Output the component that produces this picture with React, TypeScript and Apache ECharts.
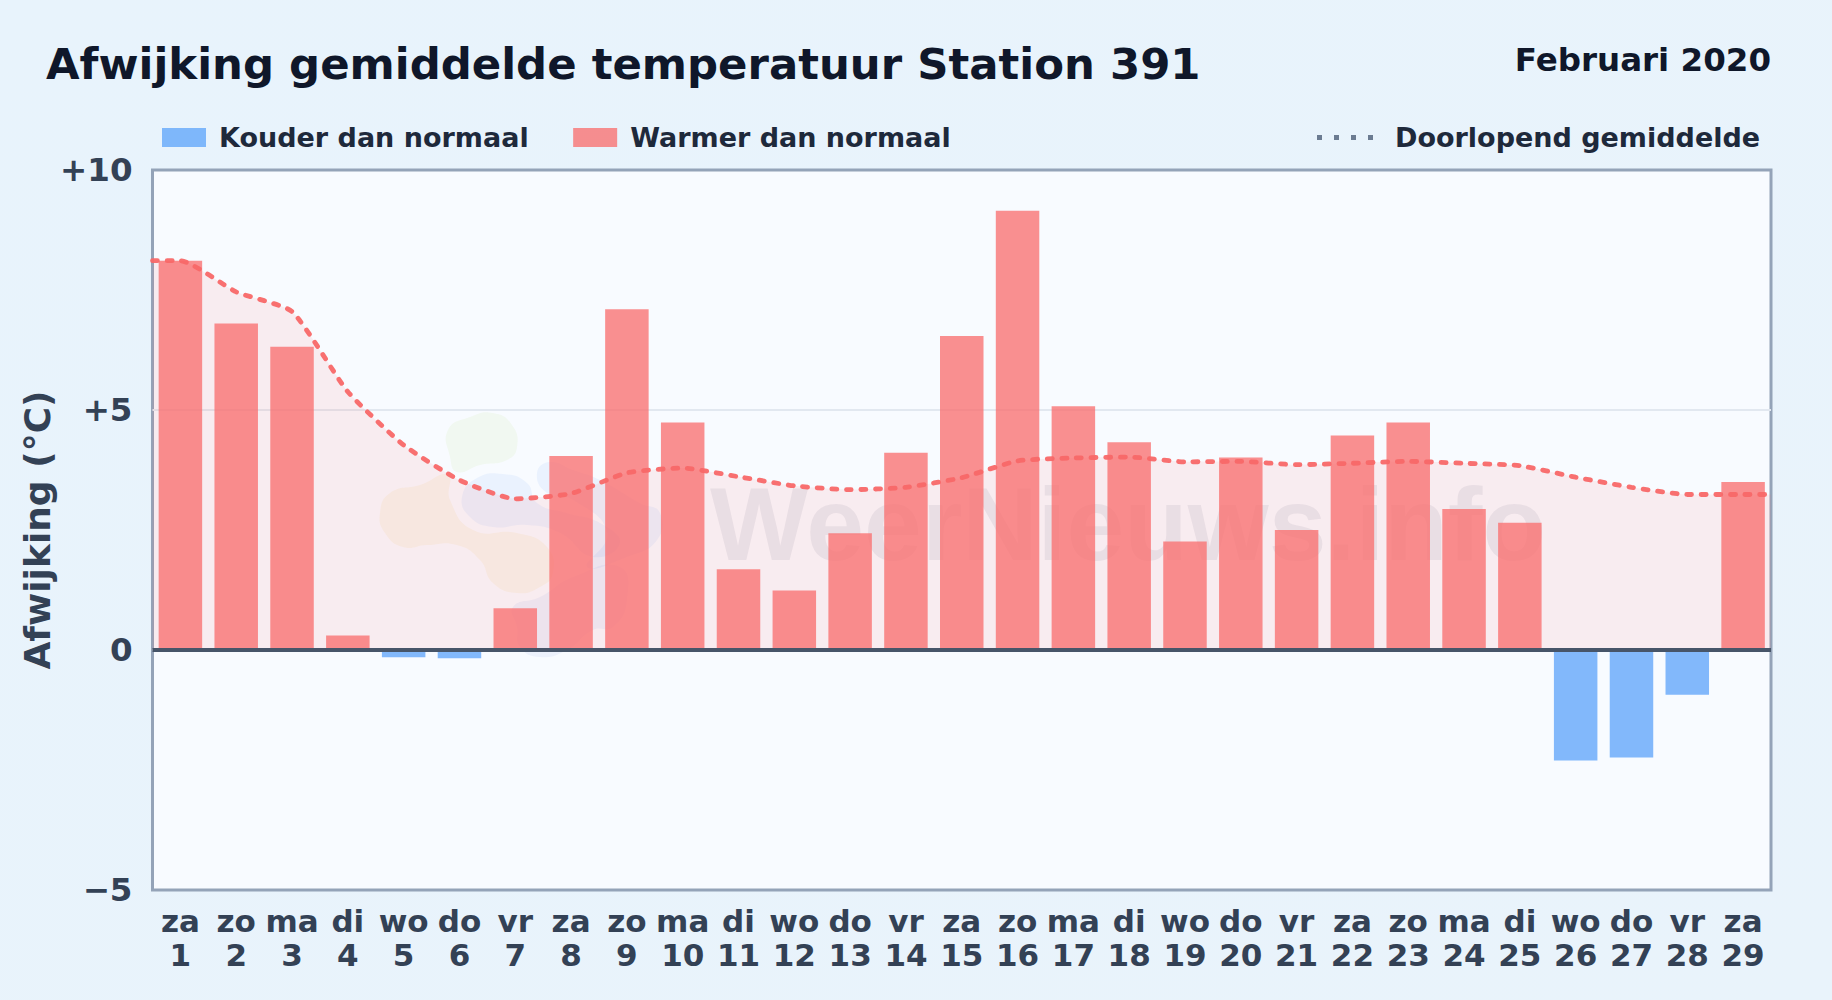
import React, { useEffect, useRef } from "react";
import * as echarts from "echarts";

const weekdays = ["za","zo","ma","di","wo","do","vr","za","zo","ma","di","wo","do","vr","za","zo","ma","di","wo","do","vr","za","zo","ma","di","wo","do","vr","za"];
const days = weekdays.map((_, i) => String(i + 1));
const deviations = [8.11,6.8,6.32,0.3,-0.15,-0.17,0.87,4.04,7.1,4.74,1.68,1.24,2.43,4.11,6.54,9.15,5.08,4.33,2.26,4.01,2.5,4.47,4.74,2.94,2.65,-2.3,-2.24,-0.93,3.5];
const runningMean = [8.11,7.46,7.05,5.38,4.27,3.54,3.15,3.26,3.69,3.79,3.61,3.42,3.34,3.39,3.59,3.94,4.0,4.02,3.92,3.93,3.86,3.89,3.93,3.89,3.84,3.6,3.39,3.24,3.24];
const yTicks = { min: -5, max: 10, step: 5 };
const coldName = "Kouder dan normaal";
const warmName = "Warmer dan normaal";
const meanName = "Doorlopend gemiddelde";
const titleText = "Afwijking gemiddelde temperatuur Station 391";
const periodText = "Februari 2020";
const watermarkText = "WeerNieuws.info";
const yAxisName = "Afwijking (°C)";

const FONT = "DejaVu Sans";
const blobs: [string, number[][]][] = [
  ["rgba(132,204,22,0.06)", [[448,430],[470,417],[493,413],[512,425],[517,447],[507,460],[480,465],[457,472],[450,457]]],
  ["rgba(234,179,8,0.07)", [[380,513],[390,493],[420,485],[448,475],[450,500],[473,530],[517,533],[547,547],[553,573],[540,587],[517,593],[493,583],[480,560],[457,545],[427,545],[403,547],[385,533]]],
  ["rgba(59,130,246,0.07)", [[462,497],[477,478],[503,474],[527,483],[537,503],[567,513],[600,523],[620,543],[593,557],[560,533],[527,525],[493,527],[470,517]]],
  ["rgba(59,130,246,0.07)", [[537,473],[550,462],[573,470],[600,480],[640,503],[660,513],[657,540],[627,557],[587,567],[607,533],[573,500],[547,493]]],
  ["rgba(59,80,200,0.06)", [[513,607],[540,597],[573,577],[620,567],[627,600],[613,627],[593,630],[567,650],[540,657],[520,647],[517,627]]],
];

function fmtTick(v: number) {
  if (v > 0) return "+" + v;
  if (v < 0) return "\u2212" + Math.abs(v);
  return "0";
}

export default function App() {
  const ref = useRef<HTMLDivElement>(null);
  useEffect(() => {
    document.body.style.margin = "0";
    const chart = echarts.init(ref.current!, undefined, { renderer: "svg" });
    const n = runningMean.length;
    const meanPoints = [[0, runningMean[0]], ...runningMean.map((v, i) => [i + 0.5, v]), [n, runningMean[n - 1]]];
    chart.setOption({
      animation: false,
      backgroundColor: { type: "linear", x: 0, y: 0, x2: 1, y2: 1, colorStops: [{ offset: 0, color: "#e8f3fc" }, { offset: 1, color: "#e9f3fb" }] },
      textStyle: { fontFamily: FONT },
      title: [
        { text: titleText, left: 46, top: 42, padding: 0, textStyle: { fontFamily: FONT, fontSize: 43.4, fontWeight: "bold", color: "#0f172a" } },
        { text: periodText, right: 61, top: 43, padding: 0, textStyle: { fontFamily: FONT, fontSize: 32.5, fontWeight: "bold", color: "#0f172a" } },
      ],
      legend: [
        { data: [coldName, warmName], left: 162, top: 124, padding: 0, itemWidth: 44, itemHeight: 19, itemGap: 44.5, icon: "rect", textStyle: { fontFamily: FONT, fontSize: 27, fontWeight: "bold", color: "#1e293b", padding: [0, 0, 0, 8] }, selectedMode: false },
        { data: [{ name: meanName, icon: "path://M0 0h5v5H0zM17 0h5v5H17zM34 0h5v5H34zM51 0h5v5H51z", itemStyle: { color: "#64748b", opacity: 0.95 } }], left: 1317, top: 124, padding: 0, itemWidth: 56, itemHeight: 5, textStyle: { fontFamily: FONT, fontSize: 27, fontWeight: "bold", color: "#1e293b", padding: [0, 0, 0, 17] }, selectedMode: false },
      ],
      grid: { left: 152.5, top: 170, width: 1618.5, height: 720, show: true, backgroundColor: "#f8fbff", borderColor: "#94a3b8", borderWidth: 3, containLabel: false },
      xAxis: [
        {
          type: "category",
          data: weekdays.map((d, i) => d + "\n" + days[i]),
          position: "bottom",
          axisLine: { show: false, onZero: false },
          axisTick: { show: false },
          axisLabel: { interval: 0, margin: 14, fontFamily: FONT, fontSize: 31, fontWeight: "bold", color: "#334155", lineHeight: 34 },
          splitLine: { show: false },
        },
        { type: "value", min: 0, max: n, show: false, splitLine: { show: false } },
      ],
      yAxis: {
        type: "value",
        min: yTicks.min,
        max: yTicks.max,
        interval: yTicks.step,
        name: yAxisName,
        nameLocation: "middle",
        nameRotate: 90,
        nameGap: 97,
        nameMoveOverlap: false,
        nameTextStyle: { fontFamily: FONT, fontSize: 36, fontWeight: "bold", color: "#334155" },
        axisLine: { show: false },
        axisTick: { show: false },
        axisLabel: { margin: 20, formatter: fmtTick, fontFamily: FONT, fontSize: 32.5, fontWeight: "bold", color: "#334155" },
        splitLine: { show: true, showMinLine: false, showMaxLine: false, lineStyle: { color: "#e2e8f0", width: 2 } },
      },
      series: [
        {
          name: meanName + " vlak",
          type: "line",
          xAxisIndex: 1,
          data: meanPoints,
          smooth: 0.18,
          showSymbol: false,
          z: 1,
          lineStyle: { width: 0, opacity: 0 },
          areaStyle: { color: "rgba(255,107,107,0.14)", origin: 0 },
        },
        {
          name: coldName,
          type: "bar",
          data: deviations.map((v) => (v < 0 ? v : null)),
          barWidth: 43.5,
          barGap: "-100%",
          z: 2,
          itemStyle: { color: "rgba(96,165,250,0.78)" },
        },
        {
          name: warmName,
          type: "bar",
          data: deviations.map((v) => (v > 0 ? v : null)),
          barWidth: 43.5,
          barGap: "-100%",
          z: 2,
          itemStyle: { color: "rgba(250,107,107,0.75)" },
          markLine: {
            silent: true,
            symbol: "none",
            label: { show: false },
            lineStyle: { color: "#475569", width: 4, type: "solid" },
            data: [{ yAxis: 0 }],
          },
        },
        {
          name: meanName,
          type: "line",
          xAxisIndex: 1,
          data: meanPoints,
          smooth: 0.18,
          showSymbol: false,
          z: 3,
          itemStyle: { color: "#64748b" },
          lineStyle: { color: "rgba(248,104,104,0.95)", width: 4.8, type: [5, 9.6], cap: "round" },
        },
      ],
      graphic: [
        ...blobs.map(([color, points]) => ({ type: "polygon", silent: true, z: 1, shape: { points, smooth: 0.5 }, style: { fill: color } })),
        { type: "text", silent: true, z: 1, x: 710, y: 472, style: { text: watermarkText, fontFamily: "Liberation Sans", fontSize: 104, fontWeight: "bold", fill: "rgba(30,41,80,0.075)" } },
      ],
    });
    return () => chart.dispose();
  }, []);
  return <div ref={ref} style={{ width: 1832, height: 1000 }} />;
}
